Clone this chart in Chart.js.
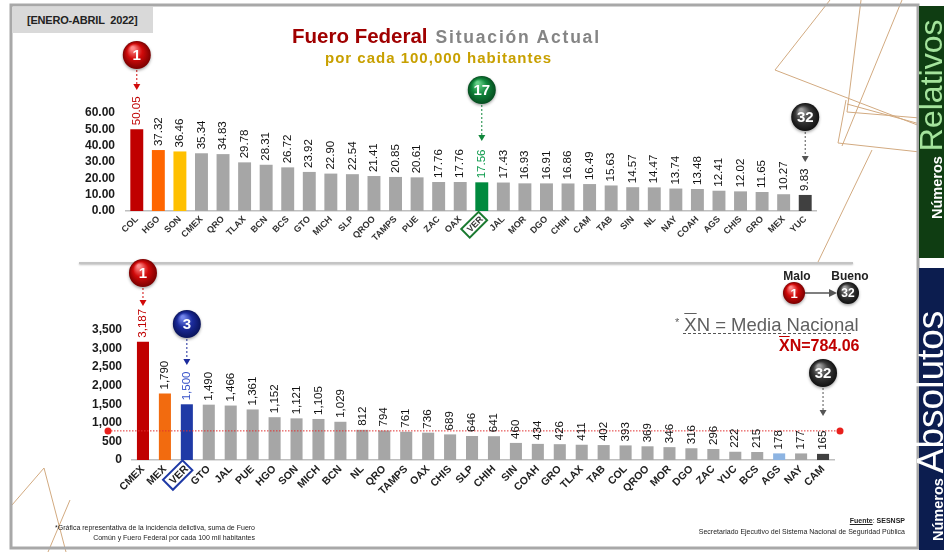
<!DOCTYPE html>
<html lang="es">
<head>
<meta charset="utf-8">
<title>Fuero Federal - Situación Actual</title>
<script src="https://cdn.jsdelivr.net/npm/chart.js@4.4.1/dist/chart.umd.min.js"></script>
<style>
  body { margin: 0; background: #fff; }
  #page { position: relative; width: 944px; height: 552px; overflow: hidden;
          font-family: 'Liberation Sans', Arial, sans-serif; }
  canvas { position: absolute; left: 0; }
  .abs { position: absolute; white-space: nowrap; }
  .periodo { left: 12px; top: 7px; width: 126px; height: 26px; padding-left: 15px;
             background: #d9d9d9; font-weight: bold; font-size: 11px; line-height: 26px;
             color: #222; letter-spacing: -0.2px; }
  .titulo { left: 292px; top: 23px; line-height: 26px; }
  .titulo .t1 { font-weight: bold; font-size: 20.5px; color: #a00000; }
  .titulo .t2 { margin-left: 8px; font-weight: bold; font-size: 17.5px; color: #858585; letter-spacing: 1.8px; }
  .subtitulo { left: 325px; top: 49px; line-height: 18px; font-weight: bold; font-size: 15px;
               color: #c8a000; letter-spacing: 1px; }
  .rot { transform-origin: 0 0; transform: rotate(-90deg); line-height: 34px; }
  .rot .num { font-size: 14.5px; font-weight: bold; color: #fff; margin-right: 5px; }
  .rot .rel { font-size: 32px; color: #a4e39c; }
  .rot .absn { font-size: 37px; color: #fff; }
  .malo, .bueno { top: 269px; line-height: 14px; font-size: 12px; font-weight: bold; color: #222; text-align: center; }
  .media { left: 675px; top: 312px; line-height: 20px; font-size: 18.5px; color: #5f5f5f; }
  .media .ast { font-size: 11px; vertical-align: 5px; margin-right: 5px; }
  .over { text-decoration: overline; }
  .media-val { left: 779px; top: 337px; line-height: 18px; font-size: 16px; font-weight: bold; color: #c00000; }
  .nota { left: 20px; top: 523px; width: 235px; text-align: right; font-size: 7px; line-height: 10px; color: #222; }
  .fuente { left: 650px; top: 516px; width: 255px; text-align: right; font-size: 7px; line-height: 10.5px; color: #222; }
  .fuente u { font-weight: bold; }
</style>
</head>
<body>
<div id="page">
  <canvas id="fondo" width="944" height="552" style="top:0"></canvas>

  <div class="abs periodo">[ENERO-ABRIL&nbsp; 2022]</div>
  <div class="abs titulo"><span class="t1">Fuero Federal</span><span class="t2">Situación Actual</span></div>
  <div class="abs subtitulo">por cada 100,000 habitantes</div>

  <canvas id="graf-rel" width="944" height="262" style="top:0"></canvas>
  <canvas id="graf-abs" width="944" height="302" style="top:250px"></canvas>

  <div class="abs malo" style="left:777px;width:40px">Malo</div>
  <div class="abs bueno" style="left:826px;width:48px">Bueno</div>
  <div class="abs media"><span class="ast">*</span><span class="over">X</span>N = Media Nacional</div>
  <div class="abs media-val" id="media-val"></div>

  <div class="abs rot" style="left:914px;top:219px"><span class="num">Números</span><span class="rel">Relativos</span></div>
  <div class="abs rot" style="left:914px;top:541px"><span class="num">Números</span><span class="absn">Absolutos</span></div>

  <div class="abs nota">*Gráfica representativa de la incidencia delictiva, suma de Fuero<br>Común y Fuero Federal por cada 100 mil habitantes</div>
  <div class="abs fuente"><u>Fuente</u>: <b>SESNSP</b><br>Secretariado Ejecutivo del Sistema Nacional de Seguridad Pública</div>
</div>

<script>
/* ── Datos: tasa por cada 100 mil habitantes ─────────────────── */
const estadosRel = ['COL', 'HGO', 'SON', 'CMEX', 'QRO', 'TLAX', 'BCN', 'BCS', 'GTO', 'MICH', 'SLP', 'QROO',
                    'TAMPS', 'PUE', 'ZAC', 'OAX', 'VER', 'JAL', 'MOR', 'DGO', 'CHIH', 'CAM', 'TAB', 'SIN',
                    'NL', 'NAY', 'COAH', 'AGS', 'CHIS', 'GRO', 'MEX', 'YUC'];
const tasaRel    = [50.05, 37.32, 36.46, 35.34, 34.83, 29.78, 28.31, 26.72, 23.92, 22.90, 22.54, 21.41,
                    20.85, 20.61, 17.76, 17.76, 17.56, 17.43, 16.93, 16.91, 16.86, 16.49, 15.63, 14.57,
                    14.47, 13.74, 13.48, 12.41, 12.02, 11.65, 10.27, 9.83];
const ticksRel   = [0, 10, 20, 30, 40, 50, 60];

/* ── Datos: números absolutos ────────────────────────────────── */
const estadosAbs = ['CMEX', 'MEX', 'VER', 'GTO', 'JAL', 'PUE', 'HGO', 'SON', 'MICH', 'BCN', 'NL', 'QRO',
                    'TAMPS', 'OAX', 'CHIS', 'SLP', 'CHIH', 'SIN', 'COAH', 'GRO', 'TLAX', 'TAB', 'COL', 'QROO',
                    'MOR', 'DGO', 'ZAC', 'YUC', 'BCS', 'AGS', 'NAY', 'CAM'];
const delitosAbs = [3187, 1790, 1500, 1490, 1466, 1361, 1152, 1121, 1105, 1029, 812, 794,
                    761, 736, 689, 646, 641, 460, 434, 426, 411, 402, 393, 369,
                    346, 316, 296, 222, 215, 178, 177, 165];
const ticksAbs   = [0, 500, 1000, 1500, 2000, 2500, 3000, 3500];
const mediaNacional = 784.06;

/* ── Estilos ─────────────────────────────────────────────────── */
const FUENTE = "'Liberation Sans', Arial, sans-serif";
const GRIS = '#a6a6a6';
const barrasRel = { COL: '#c00000', HGO: '#ff6600', SON: '#ffc000', VER: '#008a3e', YUC: '#404040' };
const barrasAbs = { CMEX: '#c00000', MEX: '#f26b0f', VER: '#1f3aa6', AGS: '#8db4e2', CAM: '#404040' };
const textoRel  = { COL: '#c00000', VER: '#0a9a4a' };
const textoAbs  = { CMEX: '#c00000', VER: '#3550c8' };

const BOLAS = {
    rojo:  { luz: '#ff8a8a', base: '#d10a0a', sombra: '#7a0000', flecha: '#d10a0a' },
    verde: { luz: '#66cf88', base: '#10873b', sombra: '#064d20', flecha: '#10873b' },
    negro: { luz: '#a0a0a0', base: '#3a3a3a', sombra: '#111111', flecha: '#555555' },
    azul:  { luz: '#7386ec', base: '#1b2b9c', sombra: '#0a145c', flecha: '#1b2b9c' },
};

/* ── Bola de ranking con brillo ──────────────────────────────── */
function drawBola(ctx, x, y, r, tono, texto, size) {
    const c = BOLAS[tono];
    ctx.save();
    ctx.shadowColor = 'rgba(0,0,0,0.35)';
    ctx.shadowBlur = 3;
    ctx.shadowOffsetY = 1.5;
    const g = ctx.createRadialGradient(x - r * 0.3, y - r * 0.5, r * 0.1, x, y, r);
    g.addColorStop(0, c.luz);
    g.addColorStop(0.5, c.base);
    g.addColorStop(1, c.sombra);
    ctx.fillStyle = g;
    ctx.beginPath();
    ctx.arc(x, y, r, 0, Math.PI * 2);
    ctx.fill();
    ctx.restore();
    ctx.save();
    ctx.fillStyle = '#fff';
    ctx.font = `bold ${size}px ${FUENTE}`;
    ctx.textAlign = 'center';
    ctx.textBaseline = 'middle';
    ctx.fillText(texto, x, y + 1);
    ctx.restore();
}

function drawFlecha(ctx, x, y0, y1, color) {
    ctx.save();
    ctx.strokeStyle = color;
    ctx.fillStyle = color;
    ctx.lineWidth = 1;
    ctx.setLineDash([2, 2]);
    ctx.beginPath();
    ctx.moveTo(x, y0);
    ctx.lineTo(x, y1 - 5);
    ctx.stroke();
    ctx.setLineDash([]);
    ctx.beginPath();
    ctx.moveTo(x - 3.5, y1 - 6);
    ctx.lineTo(x + 3.5, y1 - 6);
    ctx.lineTo(x, y1);
    ctx.closePath();
    ctx.fill();
    ctx.restore();
}

/* ── Plugins ─────────────────────────────────────────────────── */
const valoresPlugin = {
    id: 'valores',
    afterDatasetsDraw(chart, args, opts) {
        const { ctx } = chart;
        const valores = chart.data.datasets[0].data;
        const etiquetas = chart.data.labels;
        ctx.save();
        ctx.font = `${opts.size}px ${FUENTE}`;
        ctx.textAlign = 'left';
        ctx.textBaseline = 'middle';
        chart.getDatasetMeta(0).data.forEach((bar, i) => {
            ctx.save();
            ctx.translate(bar.x, bar.y - opts.gap);
            ctx.rotate(-Math.PI / 2);
            ctx.fillStyle = opts.colores[etiquetas[i]] || '#111';
            ctx.fillText(opts.formato(valores[i]), 0, 0);
            ctx.restore();
        });
        ctx.restore();
    },
};

const mediaPlugin = {
    id: 'media',
    afterDatasetsDraw(chart, args, opts) {
        if (opts.valor == null) return;
        const { ctx, chartArea } = chart;
        const y = chart.scales.y.getPixelForValue(opts.valor);
        const x0 = chartArea.left - 24, x1 = chartArea.right + 6;
        ctx.save();
        ctx.strokeStyle = '#e03030';
        ctx.lineWidth = 1;
        ctx.setLineDash([1.5, 1.5]);
        ctx.beginPath();
        ctx.moveTo(x0, y);
        ctx.lineTo(x1, y);
        ctx.stroke();
        ctx.fillStyle = '#e8201c';
        [x0, x1].forEach(x => {
            ctx.beginPath();
            ctx.arc(x, y, 3.5, 0, Math.PI * 2);
            ctx.fill();
        });
        ctx.restore();
    },
};

const marcasPlugin = {
    id: 'marcas',
    afterDraw(chart, args, opts) {
        const { ctx } = chart;
        const xs = chart.scales.x;
        (opts.items || []).forEach(m => {
            const x = xs.getPixelForValue(m.indice);
            drawFlecha(ctx, x, m.y + 15, m.punta, BOLAS[m.tono].flecha);
            drawBola(ctx, x, m.y, 14, m.tono, m.texto, 15);
        });
        /* recuadro alrededor de la etiqueta destacada */
        if (opts.recuadro) {
            const item = xs.getLabelItems()[opts.recuadro.indice];
            const o = item.options;
            ctx.save();
            ctx.translate(o.translation[0], o.translation[1]);
            ctx.rotate(o.rotation);
            ctx.font = item.font.string;
            ctx.textBaseline = o.textBaseline;
            const m = ctx.measureText(item.label);
            const p = 3;
            const top = item.textOffset - m.actualBoundingBoxAscent - p;
            const h = m.actualBoundingBoxAscent + m.actualBoundingBoxDescent + 2 * p;
            ctx.strokeStyle = opts.recuadro.color;
            ctx.lineWidth = 2;
            ctx.strokeRect(-m.width - p - 1, top, m.width + 2 * p, h);
            ctx.restore();
        }
    },
};

/* ── Constructor de gráfica de barras ────────────────────────── */
function crearGrafica(id, c) {
    return new Chart(document.getElementById(id), {
        type: 'bar',
        data: {
            labels: c.estados,
            datasets: [{
                data: c.valores,
                backgroundColor: c.estados.map(e => c.barras[e] || GRIS),
                barPercentage: c.anchoBarra,
                categoryPercentage: 1,
            }],
        },
        plugins: [mediaPlugin, valoresPlugin, marcasPlugin],
        options: {
            responsive: false,
            animation: false,
            layout: { padding: c.padding },
            plugins: {
                legend: { display: false },
                tooltip: { enabled: false },
                valores: { size: 11.5, gap: 4, colores: c.textos, formato: c.formato },
                media: { valor: c.media },
                marcas: { items: c.marcas, recuadro: c.recuadro },
            },
            scales: {
                x: {
                    grid: { display: false, drawTicks: false },
                    border: { display: true, color: '#bfbfbf', width: 1.5 },
                    ticks: {
                        autoSkip: false, maxRotation: 45, minRotation: 45, padding: 3,
                        color: c.colorX, font: { family: FUENTE, size: c.sizeX, weight: 'bold' },
                    },
                    afterFit: s => { s.height = c.altoX; },
                },
                y: {
                    min: c.ticks[0], max: c.ticks[c.ticks.length - 1],
                    grid: { display: false, drawTicks: false },
                    border: { display: false },
                    ticks: {
                        autoSkip: false, padding: c.padY, color: '#1a1a1a',
                        font: { family: FUENTE, size: 12, weight: 'bold' },
                        callback: c.formatoY,
                    },
                    afterBuildTicks: s => { s.ticks = c.ticks.map(v => ({ value: v })); },
                    afterFit: s => { s.width = c.anchoY; },
                },
            },
        },
    });
}

/* ── Fondo: marco, paneles, separador, adornos ───────────────── */
function dibujarFondo() {
    const ctx = document.getElementById('fondo').getContext('2d');

    /* adornos de líneas finas */
    ctx.strokeStyle = '#d2aa80';
    ctx.lineWidth = 1;
    [
        [[830, 0], [775, 70], [920, 126]],
        [[861, 0], [847, 112], [920, 118]],
        [[902, 0], [842, 146]],
        [[846, 100], [838, 143], [920, 152]],
        [[847, 104], [920, 124]],
        [[872, 150], [818, 262]],
        [[12, 505], [44, 468], [66, 552]],
        [[48, 552], [70, 500]],
    ].forEach(pts => {
        ctx.beginPath();
        pts.forEach(([x, y], i) => (i ? ctx.lineTo(x, y) : ctx.moveTo(x, y)));
        ctx.stroke();
    });

    /* marco gris */
    ctx.strokeStyle = '#a8a8a8';
    ctx.lineWidth = 3;
    ctx.strokeRect(11, 5, 907, 543);

    /* paneles laterales */
    ctx.fillStyle = '#0f3d12';
    ctx.fillRect(919, 6, 25, 252);
    ctx.fillStyle = '#0c1d4f';
    ctx.fillRect(919, 268, 25, 282);

    /* separador entre gráficas */
    ctx.save();
    ctx.shadowColor = 'rgba(0,0,0,0.25)';
    ctx.shadowBlur = 2;
    ctx.shadowOffsetY = 1;
    ctx.strokeStyle = '#c4c4c4';
    ctx.lineWidth = 2;
    ctx.beginPath();
    ctx.moveTo(79, 263);
    ctx.lineTo(853, 263);
    ctx.stroke();
    ctx.restore();

    /* leyenda Malo -> Bueno */
    ctx.save();
    ctx.strokeStyle = '#555';
    ctx.fillStyle = '#555';
    ctx.lineWidth = 1.5;
    ctx.beginPath();
    ctx.moveTo(804, 293);
    ctx.lineTo(830, 293);
    ctx.stroke();
    ctx.beginPath();
    ctx.moveTo(829, 289);
    ctx.lineTo(837, 293);
    ctx.lineTo(829, 297);
    ctx.closePath();
    ctx.fill();
    ctx.restore();
    drawBola(ctx, 794, 293, 11, 'rojo', '1', 13);
    drawBola(ctx, 848, 293, 11, 'negro', '32', 12);

    /* subrayado punteado de la media nacional */
    ctx.save();
    ctx.strokeStyle = '#555';
    ctx.lineWidth = 1;
    ctx.setLineDash([3, 2]);
    ctx.beginPath();
    ctx.moveTo(683, 333.5);
    ctx.lineTo(851, 333.5);
    ctx.stroke();
    ctx.restore();
}

dibujarFondo();
document.getElementById('media-val').innerHTML =
    '<span class="over">X</span>N=' + mediaNacional.toFixed(2);

/* ── Gráfica superior: números relativos ─────────────────────── */
crearGrafica('graf-rel', {
    estados: estadosRel, valores: tasaRel, ticks: ticksRel,
    barras: barrasRel, textos: textoRel, anchoBarra: 0.6,
    padding: { left: 0, top: 113, right: 128, bottom: 0 },
    anchoY: 126, altoX: 51, padY: 11, sizeX: 9, colorX: '#333',
    formato: v => v.toFixed(2),
    formatoY: v => v.toFixed(2),
    marcas: [
        { indice: 0,  texto: '1',  tono: 'rojo',  y: 55,  punta: 90 },
        { indice: 16, texto: '17', tono: 'verde', y: 90,  punta: 141 },
        { indice: 31, texto: '32', tono: 'negro', y: 117, punta: 162 },
    ],
    recuadro: { indice: 16, color: '#1a7a30' },
});

/* ── Gráfica inferior: números absolutos ─────────────────────── */
crearGrafica('graf-abs', {
    estados: estadosAbs, valores: delitosAbs, ticks: ticksAbs,
    barras: barrasAbs, textos: textoAbs, anchoBarra: 0.55,
    padding: { left: 0, top: 80, right: 110, bottom: 0 },
    anchoY: 132, altoX: 92, padY: 10, sizeX: 10.5, colorX: '#222',
    media: mediaNacional,
    formato: v => v.toLocaleString('en-US'),
    formatoY: v => v.toLocaleString('en-US'),
    marcas: [
        { indice: 0,  texto: '1',  tono: 'rojo',  y: 23,  punta: 56 },
        { indice: 2,  texto: '3',  tono: 'azul',  y: 74,  punta: 115 },
        { indice: 31, texto: '32', tono: 'negro', y: 123, punta: 166 },
    ],
    recuadro: { indice: 2, color: '#1f3aa6' },
});
</script>
</body>
</html>
